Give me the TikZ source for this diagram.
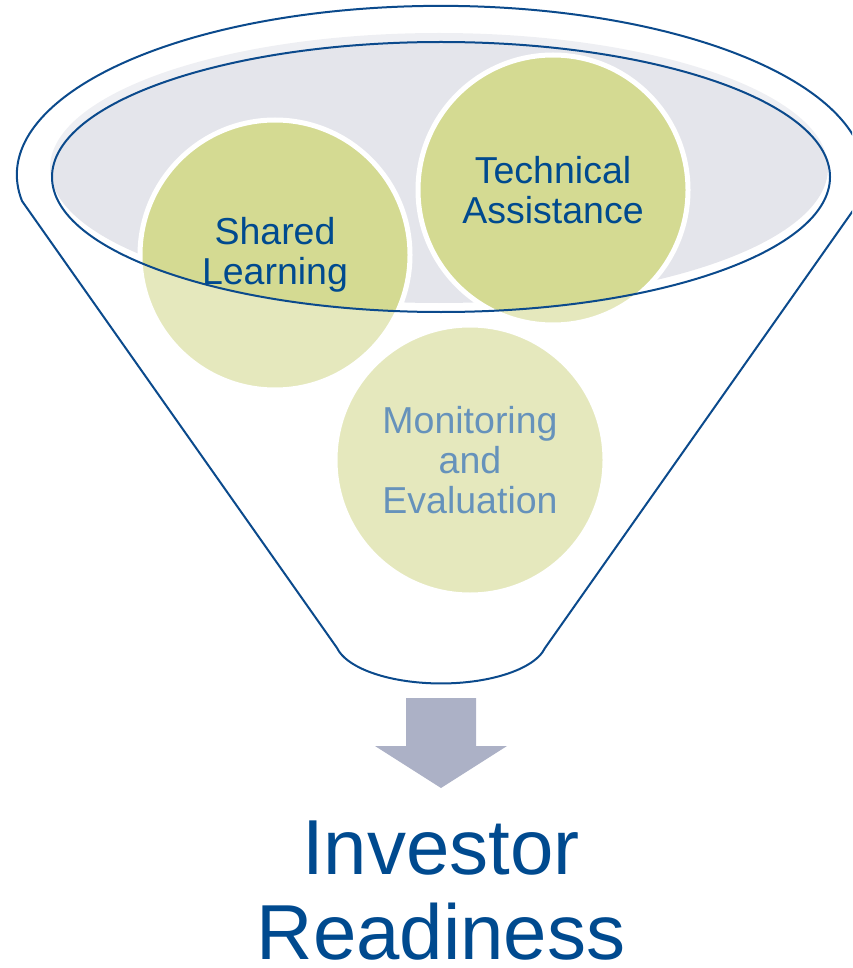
\documentclass[tikz,border=0pt]{standalone}
\usepackage{fontspec}
\setmainfont{Liberation Sans}
\definecolor{navy}{HTML}{004A8F}
\definecolor{outl}{HTML}{0B4A8C}
\definecolor{mouth}{HTML}{E4E5EB}
\definecolor{leaf}{HTML}{D4DA92}
\definecolor{arrowgray}{HTML}{ACB1C6}
\begin{document}
\begin{tikzpicture}[x=1pt,y=1pt,
  bubble/.style={circle, fill=leaf, draw=white, line width=5pt, minimum size=270pt,
    inner sep=0pt, align=center, text=navy, font=\fontsize{37.5}{40}\selectfont},
  rim/.style={draw=outl, line width=2pt, line join=round},
  funnelbody/.style={fill=white, fill opacity=0.4, even odd rule},
  blockarrow/.style={fill=arrowgray},
  title/.style={text=navy, align=center, inner sep=0pt, font=\fontsize{78}{85}\selectfont}]
\useasboundingbox (0,0) rectangle (852,-968);
\clip (0,0) rectangle (852,-968);
% named points of the funnel
\coordinate (tl) at (22,-201);
\coordinate (br) at (545,-648);
\coordinate (mc) at (441,-177);
% gray mouth fill
\fill[mouth] (439,-168) ellipse [x radius=389, y radius=135];
% bubbles
\node[bubble] (tech) at (553,-190) {Technical\\Assistance};
\node[bubble] (shared) at (275,-255) {Shared\\Learning};
\node[bubble] (mon) at (470,-460) {Monitoring\\and\\Evaluation};
% semi-transparent funnel body
\fill[funnelbody] (tl) arc[start angle=188.9, end angle=-8.9, x radius=424, y radius=169]
  -- (br) arc[start angle=-11.2, end angle=-168.8, x radius=106, y radius=44] -- cycle
  (mc) ellipse [x radius=389, y radius=135];
% outlines
\draw[rim] (tl) arc[start angle=188.9, end angle=-8.9, x radius=424, y radius=169]
  -- (br) arc[start angle=-11.2, end angle=-168.8, x radius=106, y radius=44] -- cycle;
\draw[rim] (mc) ellipse [x radius=389, y radius=135];
% down arrow
\fill[blockarrow] (406,-698) -- (476,-698) -- (476,-746) -- (507,-746) -- (441,-788)
  -- (375,-746) -- (406,-746) -- cycle;
% result
\node[title] (ir) at (441,-891) {Investor\\Readiness};
\end{tikzpicture}
\end{document}
